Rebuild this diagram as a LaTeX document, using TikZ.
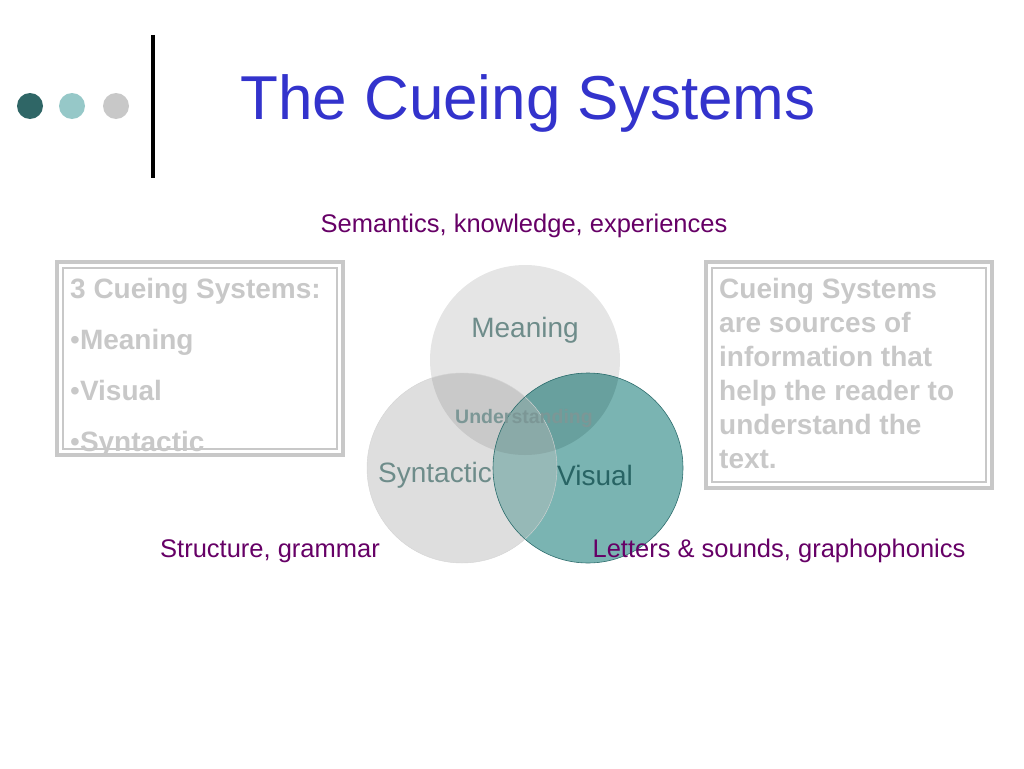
\documentclass[tikz,border=0pt]{standalone}
\usepackage{fontspec}
\setmainfont{Liberation Sans}
\usetikzlibrary{positioning}

\definecolor{titleblue}{RGB}{51,51,204}
\definecolor{plum}{RGB}{102,0,102}
\definecolor{boxgray}{RGB}{200,200,200}
\definecolor{darkteal}{RGB}{47,102,102}
\definecolor{lightteal}{RGB}{150,200,200}
\definecolor{mgray}{RGB}{229,229,229}
\definecolor{sgray}{RGB}{222,222,222}
\definecolor{vteal}{RGB}{122,180,178}
\definecolor{msgray}{RGB}{201,201,201}
\definecolor{mvteal}{RGB}{104,160,158}
\definecolor{svteal}{RGB}{150,185,183}
\definecolor{allteal}{RGB}{138,170,168}
\definecolor{vedge}{RGB}{47,110,110}
\definecolor{labgray}{RGB}{110,140,138}
\definecolor{vislab}{RGB}{40,100,100}

\tikzset{
  cue/.style={circle,minimum size=190pt,inner sep=0pt},
  cuelabel/.style={font=\fontsize{28}{32}\selectfont,text=labgray},
  note/.style={font=\fontsize{25.5}{30}\selectfont,text=plum},
  boxline/.style={anchor=base west,inner sep=0pt,font=\bfseries\fontsize{28}{32}\selectfont,text=boxgray},
  dot/.style={circle,minimum size=26pt,inner sep=0pt}
}
\def\rad{95}
\newcommand\bul{{\mdseries •}}

\begin{document}
\begin{tikzpicture}[x=1pt,y=-1pt]
\useasboundingbox (0,0) rectangle (1024,768);

% dots and bar
\node[dot,fill=darkteal] (d1) at (30,106) {};
\node[dot,fill=lightteal] (d2) at (72,106) {};
\node[dot,fill=boxgray] (d3) at (116,106) {};
\draw[line width=4pt] (153,35) -- (153,178);

\node[font=\fontsize{62}{70}\selectfont,text=titleblue] (title) at (528,103) {The Cueing Systems};

% circles
\node[cue,fill=mgray] (meaning) at (525,360) {};
\node[cue,fill=sgray] (syntactic) at (462,468) {};
\node[cue,fill=vteal] (visual) at (588,468) {};

% overlaps
\begin{scope}
  \clip (meaning.center) circle (\rad);
  \fill[msgray] (syntactic.center) circle (\rad);
  \fill[mvteal] (visual.center) circle (\rad);
\end{scope}
\begin{scope}
  \clip (syntactic.center) circle (\rad);
  \fill[svteal] (visual.center) circle (\rad);
  \clip (meaning.center) circle (\rad);
  \fill[allteal] (visual.center) circle (\rad);
\end{scope}
\draw[vedge,line width=0.6pt] (visual.center) circle (\rad);
\draw[msgray!80!white,line width=0.4pt] (syntactic.center) circle (\rad);

\node[cuelabel] (mlab) at (525,330) {Meaning};
\node[cuelabel] (slab) at (435,475) {Syntactic};
\node[cuelabel,text=vislab] (vlab) at (595,475) {Visual};
\node[font=\bfseries\fontsize{19.5}{22}\selectfont,text=labgray!90!white] (under) at (524,418) {Understanding};

% notes
\node[note] (sem) at (524,226) {Semantics, knowledge, experiences};
\node[note] (struct) at (270,551) {Structure, grammar};
\node[note] (letters) at (779,551) {Letters \& sounds, graphophonics};

% left box
\node[boxline] (l1) at (70,298) {3 Cueing Systems:};
\node[boxline] (l2) at (70,349) {\bul Meaning};
\node[boxline] (l3) at (70,400) {\bul Visual};
\node[boxline] (l4) at (70,451) {\bul Syntactic};
\draw[boxgray,line width=3.5pt] (57,262) rectangle (343,455);
\draw[boxgray,line width=1.2pt] (63,268) rectangle (337,449);

% right box
\foreach \t [count=\i] in {Cueing Systems,are sources of,information that,help the reader to,understand the,text.}
  \node[boxline] (r\i) at (719,264+34*\i) {\t};
\draw[boxgray,line width=3.5pt] (706,262) rectangle (992,488);
\draw[boxgray,line width=1.2pt] (712,268) rectangle (986,482);
\end{tikzpicture}
\end{document}
